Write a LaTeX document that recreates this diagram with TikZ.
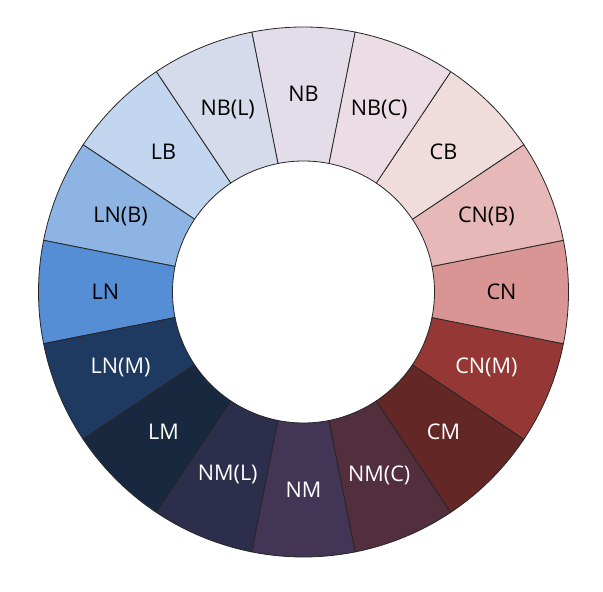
\documentclass[tikz,border=0pt]{standalone}
\usepackage{fontspec}
\setmainfont{Open Sans}
\usepackage{xcolor}
\usepackage{tikz}
\definecolor{cNB}{HTML}{E3DDEA}
\definecolor{cNBL}{HTML}{D6DBEC}
\definecolor{cLB}{HTML}{C3D6EF}
\definecolor{cLNB}{HTML}{8EB4E3}
\definecolor{cLN}{HTML}{558ED5}
\definecolor{cLNM}{HTML}{1F3A60}
\definecolor{cLM}{HTML}{18293F}
\definecolor{cNML}{HTML}{2D2E4B}
\definecolor{cNM}{HTML}{433555}
\definecolor{cNMC}{HTML}{532E3C}
\definecolor{cCM}{HTML}{632826}
\definecolor{cCNM}{HTML}{953735}
\definecolor{cCN}{HTML}{D99594}
\definecolor{cCNB}{HTML}{E6B9B8}
\definecolor{cCB}{HTML}{F0DCDB}
\definecolor{cNBC}{HTML}{EBDDE3}

\begin{document}
\begin{tikzpicture}[x=0.5pt,y=0.5pt,
  seg/.style={draw=black!85,line width=0.4pt},
  lab/.style={font=\fontsize{10.8}{13}\selectfont}]
\useasboundingbox (-303.5,-300) rectangle (299.5,292);
% ring of sectors, counterclockwise from the top
\foreach \n/\c/\t [count=\i from 0] in {NB/cNB/black,NB(L)/cNBL/black,LB/cLB/black,
    LN(B)/cLNB/black,LN/cLN/black,LN(M)/cLNM/white,LM/cLM/white,NM(L)/cNML/white,
    NM/cNM/white,NM(C)/cNMC/white,CM/cCM/white,CN(M)/cCNM/white,CN/cCN/black,
    CN(B)/cCNB/black,CB/cCB/black,NB(C)/cNBC/black}{
  \pgfmathsetmacro{\a}{90+22.5*\i}
  \pgfmathsetmacro{\s}{\a-11.25}
  \pgfmathsetmacro{\e}{\a+11.25}
  \draw[seg,fill=\c] (\s:131) arc[start angle=\s,end angle=\e,radius=131]
    -- (\e:265) arc[start angle=\e,end angle=\s,radius=265] -- cycle;
  \node[lab,text=\t] (seg\i) at (\a:198) {\n};
}
\end{tikzpicture}
\end{document}
